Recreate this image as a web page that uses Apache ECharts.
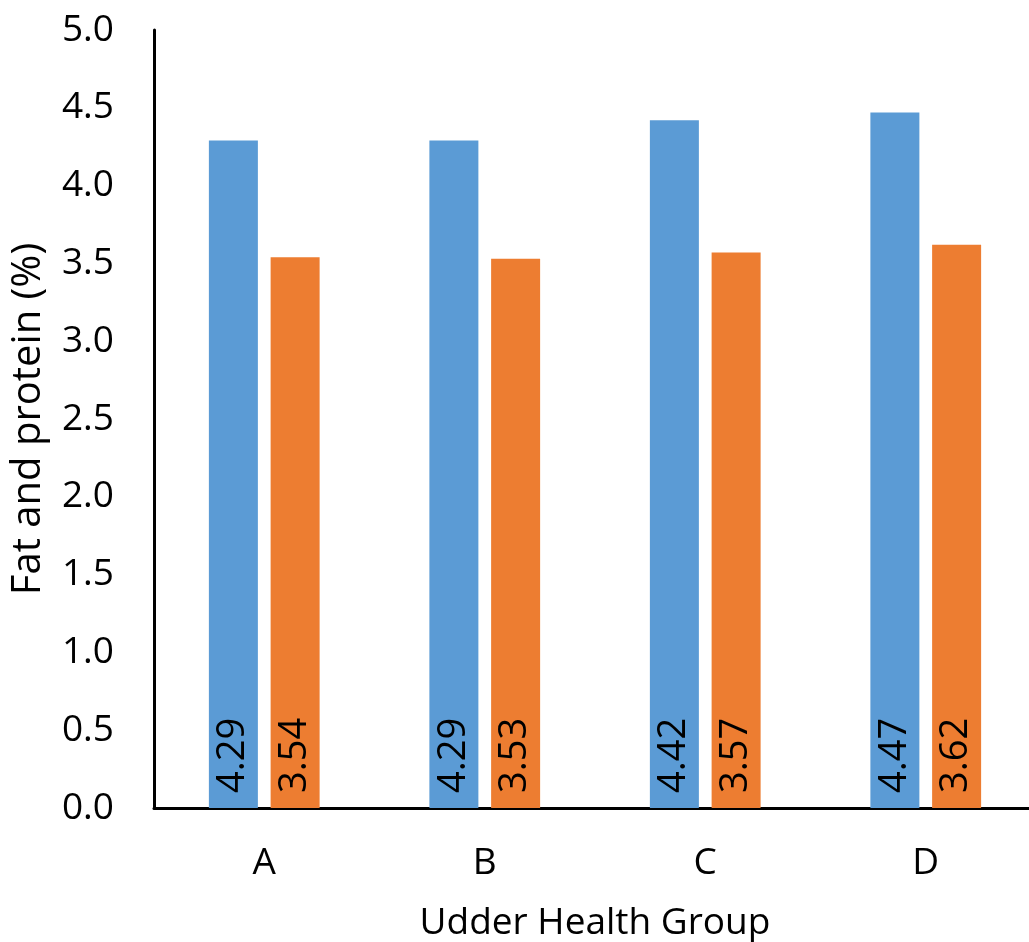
<!DOCTYPE html>
<html>
<head>
<meta charset="utf-8">
<script src="https://cdn.jsdelivr.net/npm/echarts@6/dist/echarts.min.js"></script>
<style>
  html, body { margin: 0; padding: 0; background: #ffffff; }
  #chart { width: 1029px; height: 942px; }
</style>
</head>
<body>
<div id="chart"></div>
<script>
// Udder health groups and their milk composition
const groups = ['A', 'B', 'C', 'D'];
const fatValues = [4.29, 4.29, 4.42, 4.47];
const proteinValues = [3.54, 3.53, 3.57, 3.62];
const yTicks = { min: 0, max: 5, interval: 0.5 };

const FONT = '"Open Sans", "Noto Sans", sans-serif';

const barLabel = {
  show: true,
  position: 'insideBottom',
  rotate: 90,
  align: 'left',
  verticalAlign: 'middle',
  distance: 15,
  color: '#000000',
  fontFamily: FONT,
  fontSize: 38,
  formatter: p => p.value.toFixed(2)
};

const chart = echarts.init(document.getElementById('chart'), null, { renderer: 'canvas' });
chart.setOption({
  animation: false,
  backgroundColor: '#ffffff',
  // plot area runs slightly past the right edge of the canvas
  grid: {
    left: 154, top: 30, width: 882, height: 778,
    containLabel: false, outerBoundsMode: 'none'
  },
  xAxis: {
    type: 'category',
    data: groups,
    name: 'Udder Health Group',
    nameLocation: 'middle',
    nameGap: 97,
    nameTextStyle: { fontFamily: FONT, fontSize: 37, color: '#000000' },
    axisLine: { show: true, lineStyle: { color: '#000000', width: 3 } },
    axisTick: { show: false },
    axisLabel: { fontFamily: FONT, fontSize: 37, color: '#000000', margin: 37 }
  },
  yAxis: {
    type: 'value',
    min: yTicks.min,
    max: yTicks.max,
    interval: yTicks.interval,
    name: 'Fat and protein (%)',
    nameLocation: 'middle',
    nameGap: 105,
    nameRotate: 90,
    nameTextStyle: { fontFamily: FONT, fontSize: 40, color: '#000000' },
    axisLine: { show: true, lineStyle: { color: '#000000', width: 3 } },
    axisTick: { show: false },
    splitLine: { show: false },
    axisLabel: {
      fontFamily: FONT, fontSize: 37, color: '#000000', margin: 40,
      formatter: v => v.toFixed(1)
    }
  },
  series: [
    {
      name: 'Fat',
      type: 'bar',
      data: fatValues,
      barWidth: 49,
      barGap: '26%',
      itemStyle: { color: '#5B9BD5' },
      label: barLabel
    },
    {
      name: 'Protein',
      type: 'bar',
      data: proteinValues,
      barWidth: 49,
      barGap: '26%',
      itemStyle: { color: '#ED7D31' },
      label: barLabel
    }
  ]
});
</script>
</body>
</html>
